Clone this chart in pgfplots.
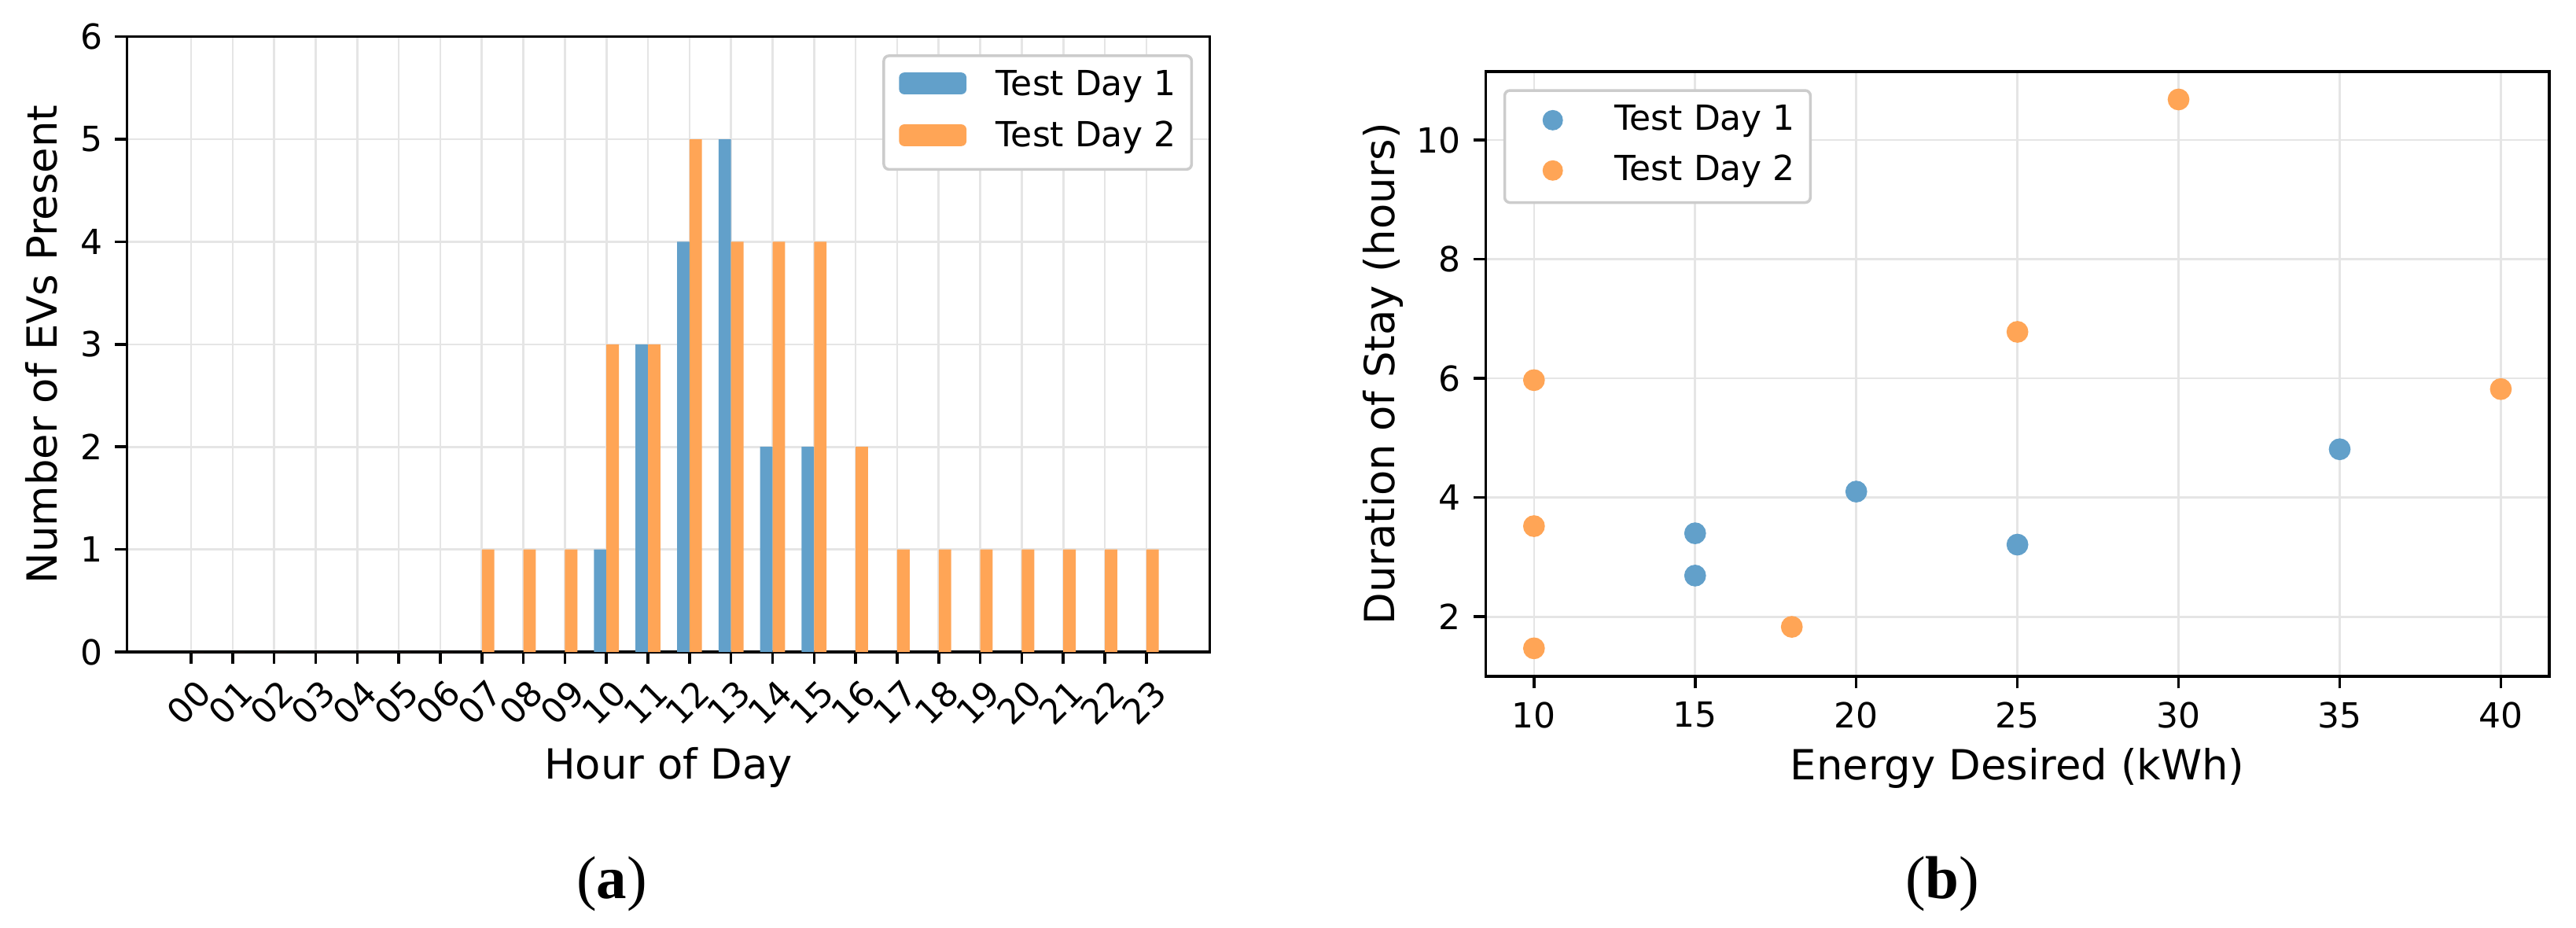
\documentclass[border=0pt]{standalone}
\usepackage{pgfplots}
\pgfplotsset{compat=1.18}
\usepackage{fontspec}
\setmainfont{DejaVu Sans}
\newfontfamily\capfont{Liberation Serif}
\definecolor{c1}{HTML}{62A0CA}
\definecolor{c2}{HTML}{FFA556}
\begin{document}
\begin{tikzpicture}
\useasboundingbox (0,0) rectangle (744.55pt,268.18pt);
\pgfplotsset{
 common/.style={
   scale only axis, anchor=south west,
   axis line style={line width=0.8pt},
   tick align=outside, tick pos=left, major tick length=3.5pt,
   every tick/.style={black, line width=0.8pt},
   grid=major, major grid style={line width=0.6pt, draw=black!10},
   tick label style={font=\fontsize{10}{12}\selectfont, inner sep=0pt},
   label style={font=\fontsize{12}{14}\selectfont},
   /pgf/number format/assume math mode=true,
   legend style={draw=black!20, line width=0.8pt, rounded corners=1.5pt, fill=white,
     font=\fontsize{10}{12}\selectfont, inner xsep=4.4pt, inner ysep=4.1pt,
     row sep=5.2pt, column sep=0pt, cells={anchor=base west},
     nodes={inner sep=0pt, text depth=0.236em}},
 }
}
\begin{axis}[common, at={(36.75pt,79.77pt)}, width=312.95pt, height=177.8pt,
 xmin=-1.54, xmax=24.53, ymin=0, ymax=6,
 xtick={0,...,23},
 xticklabels={00,01,02,03,04,05,06,07,08,09,10,11,12,13,14,15,16,17,18,19,20,21,22,23},
 ytick={0,...,6},
 xticklabel style={yshift=-11.1pt, xshift=-0.7pt, rotate=45, anchor=center},
 yticklabel style={anchor=east, xshift=-3.5pt},
 xlabel={Hour of Day}, ylabel={Number of EVs Present},
 xlabel style={at={(axis description cs:0.5,-0.20585)}, anchor=base},
 ylabel style={at={(axis description cs:-0.0649,0.5)}, anchor=base},
 legend style={at={(1,1)}, anchor=north east, xshift=-4.9pt, yshift=-5.1pt},
 legend image code/.code={\path[draw=none,fill=none] (0pt,0pt) -- (28pt,0pt); \fill[#1, draw=none] (0pt,0.25pt) rectangle (19.5pt,6.55pt);},
]
\addplot[ybar, bar width=0.3, bar shift=-0.15, fill=c1, draw=none] coordinates {
(0,0) (1,0) (2,0) (3,0) (4,0) (5,0) (6,0) (7,0) (8,0) (9,0) (10,1) (11,3)
(12,4) (13,5) (14,2) (15,2) (16,0) (17,0) (18,0) (19,0) (20,0) (21,0) (22,0) (23,0)};
\addlegendentry{Test Day 1}
\addplot[ybar, bar width=0.3, bar shift=0.15, fill=c2, draw=none] coordinates {
(0,0) (1,0) (2,0) (3,0) (4,0) (5,0) (6,0) (7,1) (8,1) (9,1) (10,3) (11,3)
(12,5) (13,4) (14,4) (15,4) (16,2) (17,1) (18,1) (19,1) (20,1) (21,1) (22,1) (23,1)};
\addlegendentry{Test Day 2}
\end{axis}

\begin{axis}[common, at={(429.4pt,72.73pt)}, width=307.4pt, height=174.8pt,
 xmin=8.5, xmax=41.5, ymin=1.0, ymax=11.15,
 xtick={10,15,...,40}, ytick={2,4,...,10},
 xticklabel style={anchor=north, yshift=-3.7pt},
 yticklabel style={anchor=east, xshift=-3.5pt},
 xlabel={Energy Desired (kWh)}, ylabel={Duration of Stay (hours)},
 xlabel style={at={(axis description cs:0.5,-0.17048)}, anchor=base},
 ylabel style={at={(axis description cs:-0.08556,0.5)}, anchor=base},
 legend style={at={(0,1)}, anchor=north west, xshift=5.1pt, yshift=-5.1pt, row sep=4.75pt},
 legend image code/.code={\path[draw=none,fill=none] (0pt,0pt) -- (27.4pt,0pt); \fill[#1, draw=none] (9.5pt,2.8pt) circle[radius=2.95pt];},
]
\addplot[only marks, mark=*, mark size=2.95pt, color=c1, mark options={draw=none, fill=c1}] coordinates {
(15,3.40) (15,2.69) (20,4.10) (25,3.21) (35,4.81)};
\addlegendentry{Test Day 1}
\addplot[only marks, mark=*, mark size=2.95pt, color=c2, mark options={draw=none, fill=c2}] coordinates {
(10,5.97) (10,3.52) (10,1.47) (18,1.83) (25,6.78) (30,10.68) (40,5.82)};
\addlegendentry{Test Day 2}
\end{axis}

\node[font=\capfont\fontsize{17.5}{20}\selectfont, anchor=base, inner sep=0pt] at (176.8pt,8.6pt) {(\textbf{a})};
\node[font=\capfont\fontsize{17.5}{20}\selectfont, anchor=base, inner sep=0pt] at (561.4pt,8.6pt) {(\textbf{b})};
\end{tikzpicture}
\end{document}
